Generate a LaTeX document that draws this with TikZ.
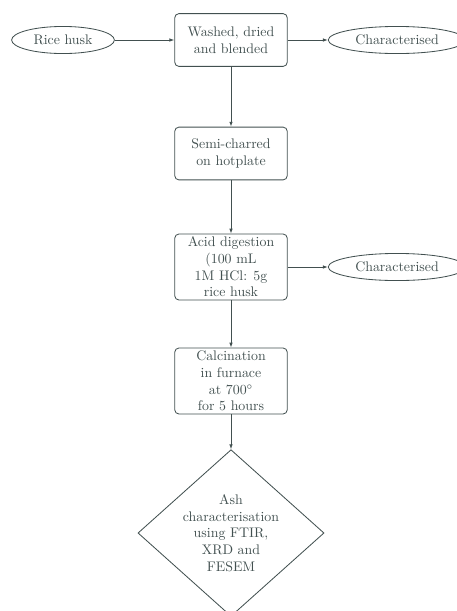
\documentclass[tikz,border=0pt]{standalone}
\usetikzlibrary{shapes.geometric,arrows.meta}
\definecolor{ink}{RGB}{66,80,80}
\begin{document}
\begin{tikzpicture}[x=0.72pt,y=-0.72pt,
  every node/.style={text=ink},
  stepbox/.style={draw=ink,line width=0.6pt,rounded corners=3pt,minimum width=81pt,minimum height=38pt,align=center,inner sep=2pt},
  tallbox/.style={stepbox,minimum height=47.5pt},
  oval/.style={draw=ink,line width=0.6pt,ellipse,minimum width=74pt,minimum height=19.5pt,inner sep=1pt},
  conn/.style={draw=ink,line width=0.6pt,-{Latex[length=3.5pt,width=2.5pt]}}]
\useasboundingbox (0,0) rectangle (457,611);
\begin{scope}
\clip (0,0) rectangle (457,611);
\node[oval] (rice) at (63,40) {Rice husk};
\node[stepbox] (wash) at (231,40) {Washed, dried\\and blended};
\node[oval,minimum width=99pt] (char1) at (397,40) {Characterised};
\node[stepbox] (semi) at (231,153.5) {Semi-charred\\on hotplate};
\node[tallbox] (acid) at (231,267) {Acid digestion\\(100 mL\\1M HCl: 5g\\rice husk};
\node[oval,minimum width=99pt] (char2) at (397,267) {Characterised};
\node[tallbox] (calc) at (231,381) {Calcination\\in furnace\\at 700$^{\circ}$\\for 5 hours};
\node[diamond,draw=ink,line width=0.6pt,minimum width=134pt,minimum height=120pt,inner sep=0pt] (ash) at (231,533) {};
\node[align=center] (ashtext) at (ash.center) {Ash\\characterisation\\using FTIR,\\XRD and\\FESEM};
\draw[conn] (rice) -- (wash);
\draw[conn] (wash) -- (char1);
\draw[conn] (wash) -- (semi);
\draw[conn] (semi) -- (acid);
\draw[conn] (acid) -- (char2);
\draw[conn] (acid) -- (calc);
\draw[conn] (calc) -- (ash);
\end{scope}
\end{tikzpicture}
\end{document}
